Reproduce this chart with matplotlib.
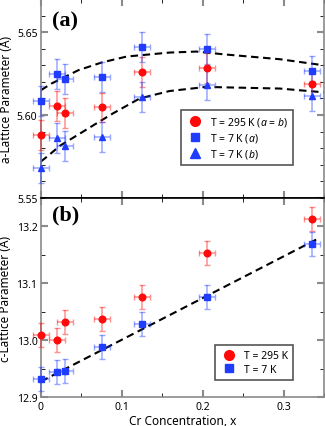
import numpy as np
import matplotlib
matplotlib.use('Agg')
import matplotlib.pyplot as plt
from matplotlib.lines import Line2D
from matplotlib.ticker import MultipleLocator

plt.rcParams['font.family'] = ['Noto Sans', 'DejaVu Sans']
plt.rcParams['mathtext.fontset'] = 'custom'
plt.rcParams['mathtext.it'] = 'Noto Sans:italic'

# concentracion de Cr
x = [0.0, 0.02, 0.03, 0.075, 0.125, 0.205, 0.335]

# parametro a (Å)
a_295 = [5.588, 5.6057, 5.6014, 5.6046, 5.6259, 5.6285, 5.6185]
a_7a = [5.6087, 5.625, 5.6217, 5.6229, 5.641, 5.6397, 5.6265]
a_7b = [5.568, 5.5864, 5.5813, 5.5866, 5.6111, 5.6179, 5.6117]
a_err = 0.009

# parametro c (Å)
c_295 = [13.0095, 13.0007, 13.033, 13.0375, 13.077, 13.154, 13.213]
c_7 = [12.932, 12.944, 12.946, 12.988, 13.028, 13.077, 13.170]
c_err = 0.021

x_err = 0.01

# curvas de ajuste
fit_x = [0.0, 0.013, 0.046, 0.075, 0.106, 0.159, 0.192, 0.229, 0.295, 0.35]
fit_a7a = [5.615, 5.619, 5.627, 5.6317, 5.6353, 5.6377, 5.6383, 5.6365, 5.6337, 5.630]
fit_bx = [0.0, 0.009, 0.0235, 0.042, 0.0667, 0.089, 0.122, 0.159, 0.2045, 0.229, 0.295, 0.35]
fit_a7b = [5.572, 5.5755, 5.5815, 5.587, 5.5944, 5.601, 5.610, 5.6145, 5.617, 5.6167, 5.616, 5.6137]
fit_cx = [0.0, 0.343]
fit_c7 = [12.928, 13.179]

rojo = '#ff0a0a'
azul = '#1f3cff'
gris = '#8a8a8a'

fig = plt.figure(figsize=(3.25, 4.27), dpi=100)
ax1 = fig.add_axes([0.126, 0.534, 0.871, 0.466])
ax2 = fig.add_axes([0.126, 0.067, 0.871, 0.467])

def puntos(ax, y, err, color, marker, ms):
    ax.errorbar(x, y, yerr=err, xerr=x_err, fmt=marker,
                color=color, ms=ms, ecolor=color, elinewidth=1.1, capsize=2.5,
                capthick=1.0, clip_on=False, zorder=3)

def ajustar(ax):
    for c in ax.collections:
        c.set_alpha(0.45)
    for l in ax.lines:
        if l.get_marker() in ('|', '_'):
            l.set_alpha(0.45)

puntos(ax1, a_295, a_err, rojo, 'o', 4.8)
puntos(ax1, a_7a, a_err, azul, 's', 4.2)
puntos(ax1, a_7b, a_err, azul, '^', 4.8)
ax1.plot(fit_x, fit_a7a, color='black', lw=1.5, dashes=(3.6, 2.2), zorder=2)
ax1.plot(fit_bx, fit_a7b, color='black', lw=1.5, dashes=(3.6, 2.2), zorder=2)

puntos(ax2, c_295, c_err, rojo, 'o', 4.8)
puntos(ax2, c_7, c_err, azul, 's', 4.2)
ax2.plot(fit_cx, fit_c7, color='black', lw=1.5, dashes=(3.6, 2.2), zorder=2)

ajustar(ax1)
ajustar(ax2)

ax1.set_xlim(0, 0.35)
ax2.set_xlim(0, 0.35)
ax1.set_ylim(5.55, 5.67)
ax2.set_ylim(12.9, 13.25)

for ax in (ax1, ax2):
    ax.xaxis.set_major_locator(MultipleLocator(0.1))
    ax.xaxis.set_minor_locator(MultipleLocator(0.05))
    ax.tick_params(which='major', direction='in', length=5, width=1.5, color=gris,
                   top=True, right=True, labelsize=7.5, pad=2.5)
    ax.tick_params(which='minor', direction='in', length=3, width=0.6, color='black',
                   top=True, right=True)
    for s in ax.spines.values():
        s.set_color(gris)
        s.set_linewidth(1.2)

ax1.yaxis.set_major_locator(MultipleLocator(0.05))
ax1.yaxis.set_minor_locator(MultipleLocator(0.01))
ax1.yaxis.set_major_formatter(matplotlib.ticker.FormatStrFormatter('%.2f'))
ax2.yaxis.set_major_locator(MultipleLocator(0.1))
ax2.yaxis.set_minor_locator(MultipleLocator(0.05))
ax2.yaxis.set_major_formatter(matplotlib.ticker.FormatStrFormatter('%.1f'))
ax2.xaxis.set_major_formatter(matplotlib.ticker.FuncFormatter(
    lambda v, p: '0' if abs(v) < 1e-9 else '%.1f' % v))
ax1.tick_params(labelbottom=False)

ax1.spines['bottom'].set_color('black')
ax2.spines['top'].set_color('black')

ax1.set_ylabel('a-Lattice Parameter (Å)', fontsize=8.5, labelpad=3)
ax2.set_ylabel('c-Lattice Parameter (Å)', fontsize=8.5, labelpad=3)
ax2.set_xlabel('Cr Concentration, x', fontsize=8.5, labelpad=0)
ax2.xaxis.set_label_coords(0.5, -0.085)

ax1.text(0.04, 0.94, '(a)', transform=ax1.transAxes, fontsize=16, fontweight='bold',
         family='Liberation Serif', va='top')
ax2.text(0.04, 0.965, '(b)', transform=ax2.transAxes, fontsize=16, fontweight='bold',
         family='Liberation Serif', va='top')

h1 = [Line2D([], [], ls='none', marker='o', color=rojo, ms=7),
      Line2D([], [], ls='none', marker='s', color=azul, ms=6),
      Line2D([], [], ls='none', marker='^', color=azul, ms=7)]
l1 = ['T = 295 K ($a$ = $b$)', 'T = 7 K ($a$)', 'T = 7 K ($b$)']
leg1 = ax1.legend(h1, l1, loc='lower right', bbox_to_anchor=(0.91, 0.14), fontsize=7.5,
                  fancybox=False, framealpha=1, edgecolor='#555555', handletextpad=0.5,
                  labelspacing=0.25, borderpad=0.5, handlelength=1.8)
leg1.get_frame().set_linewidth(1.2)

h2 = [Line2D([], [], ls='none', marker='o', color=rojo, ms=7),
      Line2D([], [], ls='none', marker='s', color=azul, ms=6)]
l2 = ['T = 295 K', 'T = 7 K']
leg2 = ax2.legend(h2, l2, loc='lower right', bbox_to_anchor=(0.91, 0.06), fontsize=7.5,
                  fancybox=False, framealpha=1, edgecolor='#555555', handletextpad=0.5,
                  labelspacing=0.25, borderpad=0.5, handlelength=1.8)
leg2.get_frame().set_linewidth(1.2)

fig.savefig('out.png', dpi=100)
